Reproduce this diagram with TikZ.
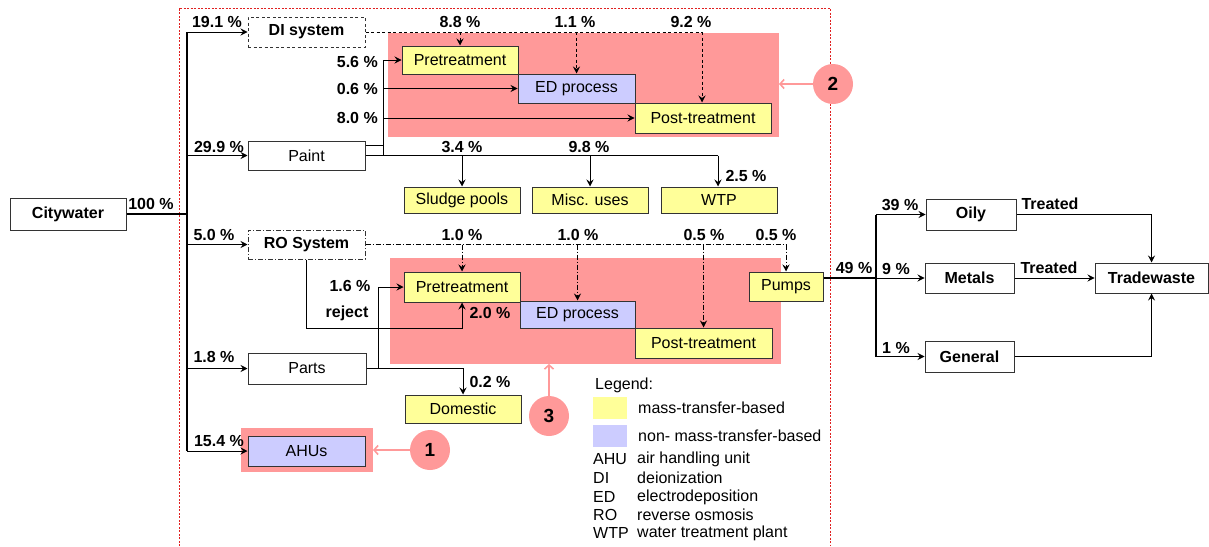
\documentclass[tikz,border=0pt]{standalone}
\usepackage{fontspec}
\setmainfont{Liberation Sans}
\usetikzlibrary{arrows.meta,calc}

\definecolor{zonepink}{HTML}{FF9999}
\definecolor{masscol}{HTML}{FFFF99}
\definecolor{nonmasscol}{HTML}{CCCCFF}
\definecolor{edgegray}{HTML}{333333}
\definecolor{borderred}{HTML}{E02020}

\begin{document}
\begin{tikzpicture}[x=1pt,y=-1pt,
  every node/.style={font=\fontsize{16pt}{19pt}\selectfont, inner sep=0pt},
  box/.style={draw=edgegray, line width=1pt, rectangle, align=center},
  boldbox/.style={box, font=\fontsize{16pt}{19pt}\selectfont\bfseries},
  massbox/.style={box, fill=masscol},
  nonmassbox/.style={box, fill=nonmasscol},
  lbl/.style={font=\fontsize{16pt}{19pt}\selectfont\bfseries},
  legtxt/.style={anchor=west},
  flow/.style={line width=0.9pt, draw=black},
  arr/.style={flow, -{Stealth[length=7pt,width=7pt,inset=2.5pt]}},
  dilink/.style={dash pattern=on 3pt off 2.5pt},
  rolink/.style={dash pattern=on 5pt off 2pt on 1pt off 2pt},
  mainline/.style={line width=2pt, draw=black},
  zone/.style={fill=zonepink, draw=none},
  marker/.style={circle, fill=zonepink, minimum size=40pt, font=\fontsize{19pt}{22pt}\selectfont\bfseries},
  markarrow/.style={draw=zonepink, line width=1.6pt, -{Straight Barb[length=4pt,width=9pt]}}
]
\useasboundingbox (0,0) rectangle (1209,546);

% plant boundary (open at the bottom)
\draw[borderred, line width=0.8pt, dash pattern=on 2pt off 1.5pt]
  (179,546) -- (179,8) -- (830,8) -- (830,546);

% shaded process zones
\fill[zone] (388,33) rectangle (779,137);
\fill[zone] (390,258) rectangle (781,364);
\fill[zone] (241,428) rectangle (373,472);

% source and first-level units
\node[boldbox, minimum width=116pt, minimum height=32pt] (city) at (68,214) {Citywater};
\node[boldbox, dilink, minimum width=117pt, minimum height=30pt] (di) at (306.5,32) {DI system};
\node[box, minimum width=117pt, minimum height=29pt] (paint) at (306.5,155.5) {Paint};
\node[boldbox, rolink, minimum width=117pt, minimum height=29pt] (ro) at (306.5,244.5) {RO System};
\node[box, minimum width=118pt, minimum height=31pt] (parts) at (307,368.5) {Parts};
\node[nonmassbox, minimum width=117pt, minimum height=30pt] (ahu) at (306.5,451) {AHUs};

% paint line processes
\node[massbox, minimum width=116pt, minimum height=28pt] (pre1) at (460,60) {Pretreatment};
\node[nonmassbox, minimum width=117pt, minimum height=29pt] (ed1) at (576.5,88.5) {ED process};
\node[massbox, minimum width=136pt, minimum height=30pt] (post1) at (703,118) {Post-treatment};
\node[massbox, minimum width=116pt, minimum height=26pt] (sludge) at (462,200) {Sludge pools};
\node[massbox, minimum width=116pt, minimum height=26pt] (misc) at (590,200) {Misc. uses};
\node[massbox, minimum width=116pt, minimum height=26pt] (wtp) at (719,200) {WTP};

% parts line processes
\node[massbox, minimum width=116pt, minimum height=30pt] (pre2) at (462,287) {Pretreatment};
\node[nonmassbox, minimum width=115pt, minimum height=27pt] (ed2) at (577.5,314.5) {ED process};
\node[massbox, minimum width=137pt, minimum height=30pt] (post2) at (703.5,343) {Post-treatment};
\node[massbox, minimum width=74pt, minimum height=29pt] (pumps) at (786,286.5) {Pumps};
\node[massbox, minimum width=116pt, minimum height=28pt] (domestic) at (463,409) {Domestic};

% trade waste side
\node[boldbox, minimum width=90pt, minimum height=31pt] (oily) at (971,214.5) {Oily};
\node[boldbox, minimum width=89pt, minimum height=30pt] (metals) at (969.5,278) {Metals};
\node[boldbox, minimum width=89pt, minimum height=31pt] (general) at (969.5,356.5) {General};
\node[boldbox, minimum width=113pt, minimum height=30pt] (trade) at (1151.5,278) {Tradewaste};

% junction points
\coordinate (bus) at (187,214);
\coordinate (bustop) at (187,32);
\coordinate (busbot) at (187,451);
\coordinate (pbus) at (383,60);
\coordinate (pbusbot) at (383,155.5);
\coordinate (pend) at (718,155.5);
\coordinate (diend) at (702,32);
\coordinate (roend) at (786,244.5);
\coordinate (partsj) at (378,368.5);
\coordinate (rejturn) at (462,328);
\coordinate (wbus) at (876,278);
\coordinate (wbustop) at (876,214.5);
\coordinate (wbusbot) at (876,356.5);

% citywater distribution
\draw[mainline] (city.east) -- (bus);
\draw[flow, line width=1.3pt] (bustop) -- (busbot);
\draw[arr] (bustop) -- (di.west);
\draw[arr] (bus |- paint.west) -- (paint.west);
\draw[arr] (bus |- ro.west) -- (ro.west);
\draw[arr] (bus |- parts.west) -- (parts.west);
\draw[arr] (busbot) -- (ahu.west);

% DI system supply
\draw[flow, dilink] (di.east) -- (diend);
\draw[arr, dilink] (pre1.north |- di.east) -- (pre1.north);
\draw[arr, dilink] (ed1.north |- di.east) -- (ed1.north);
\draw[arr, dilink] (diend) -- (diend |- post1.north);

% paint feeds
\draw[flow] ($(paint.east)+(0,-10)$) -- ($(pbus |- paint.east)+(0,-10)$);
\draw[flow] (pbus) -- (pbusbot);
\draw[arr] (pbus) -- (pre1.west);
\draw[arr] (pbus |- ed1.west) -- (ed1.west);
\draw[arr] (pbus |- post1.west) -- (post1.west);
\draw[flow] (paint.east) -- (pend);
\draw[arr] (sludge.north |- paint.east) -- (sludge.north);
\draw[arr] (misc.north |- paint.east) -- (misc.north);
\draw[arr] (pend) -- (pend |- wtp.north);

% RO system supply
\draw[flow, rolink] (ro.east) -- (roend);
\draw[arr, rolink] (pre2.north |- ro.east) -- (pre2.north);
\draw[arr, rolink] (ed2.north |- ro.east) -- (ed2.north);
\draw[arr, rolink] (post2.north |- ro.east) -- (post2.north);
\draw[arr, rolink] (roend) -- (pumps.north);
\draw[arr] (ro.south) |- (rejturn) -- (pre2.south);

% parts feeds
\draw[flow] (parts.east) -- (partsj);
\draw[arr] (partsj) |- (pre2.west);
\draw[arr] (partsj) -| (domestic.north);

% trade waste
\draw[mainline] (pumps.east |- wbus) -- (wbus);
\draw[flow, line width=1.1pt] (wbustop) -- (wbusbot);
\draw[arr] (wbustop) -- (oily.west);
\draw[arr] (wbus) -- (metals.west);
\draw[arr] (wbusbot) -- (general.west);
\draw[arr] (oily.east) -| (trade.north);
\draw[arr] (metals.east) -- (trade.west);
\draw[arr] (general.east) -| (trade.south);

% zone markers
\node[marker] (m1) at (430,450) {1};
\node[marker] (m2) at (833,84) {2};
\node[marker] (m3) at (549,416) {3};
\draw[markarrow] (m1.west) -- (373,450);
\draw[markarrow] (m2.west) -- (779,84);
\draw[markarrow] (m3.north) -- (549,364);

% flow percentages
\node[lbl] (l100) at (151,204) {100 \%};
\node[lbl] (l191) at (217,22) {19.1 \%};
\node[lbl] (l299) at (219,147) {29.9 \%};
\node[lbl] (l50) at (214,235) {5.0 \%};
\node[lbl] (l18) at (214,357) {1.8 \%};
\node[lbl] (l154) at (219,441) {15.4 \%};
\node[lbl, anchor=east] (l56) at (378,62) {5.6 \%};
\node[lbl, anchor=east] (l06) at (378,89) {0.6 \%};
\node[lbl, anchor=east] (l80) at (378,118) {8.0 \%};
\node[lbl] (l88) at (460,22) {8.8 \%};
\node[lbl] (l11) at (575,22) {1.1 \%};
\node[lbl] (l92) at (691,22) {9.2 \%};
\node[lbl] (l34) at (462,147) {3.4 \%};
\node[lbl] (l98) at (589,147) {9.8 \%};
\node[lbl] (l25) at (746,176) {2.5 \%};
\node[lbl] (l10a) at (462,235) {1.0 \%};
\node[lbl] (l10b) at (578,235) {1.0 \%};
\node[lbl] (l05a) at (704,235) {0.5 \%};
\node[lbl] (l05b) at (776,235) {0.5 \%};
\node[lbl] (l16) at (350,286) {1.6 \%};
\node[lbl] (lrej) at (347,313) {reject};
\node[lbl] (l20) at (490,313) {2.0 \%};
\node[lbl] (l02) at (490,382) {0.2 \%};
\node[lbl] (l49) at (854,268) {49 \%};
\node[lbl] (l39) at (900,205) {39 \%};
\node[lbl] (l9) at (896,269) {9 \%};
\node[lbl] (l1) at (896,348) {1 \%};
\node[lbl] (ltr1) at (1050,204) {Treated};
\node[lbl] (ltr2) at (1049,268) {Treated};

% legend
\node[legtxt] (leghead) at (595,385) {Legend:};
\fill[masscol] (593,397) rectangle (627,419);
\fill[nonmasscol] (593,425) rectangle (627,447);
\node[legtxt] (legmass) at (638,408) {mass-transfer-based};
\node[legtxt] (legnon) at (638,436) {non- mass-transfer-based};
\node[legtxt] (ab1) at (593,459) {AHU};
\node[legtxt] (ab2) at (593,478) {DI};
\node[legtxt] (ab3) at (593,497) {ED};
\node[legtxt] (ab4) at (593,515) {RO};
\node[legtxt] (ab5) at (593,533) {WTP};
\node[legtxt] (de1) at (637,459) {air handling unit};
\node[legtxt] (de2) at (637,478) {deionization};
\node[legtxt] (de3) at (637,497) {electrodeposition};
\node[legtxt] (de4) at (637,515) {reverse osmosis};
\node[legtxt] (de5) at (637,533) {water treatment plant};
\end{tikzpicture}
\end{document}
